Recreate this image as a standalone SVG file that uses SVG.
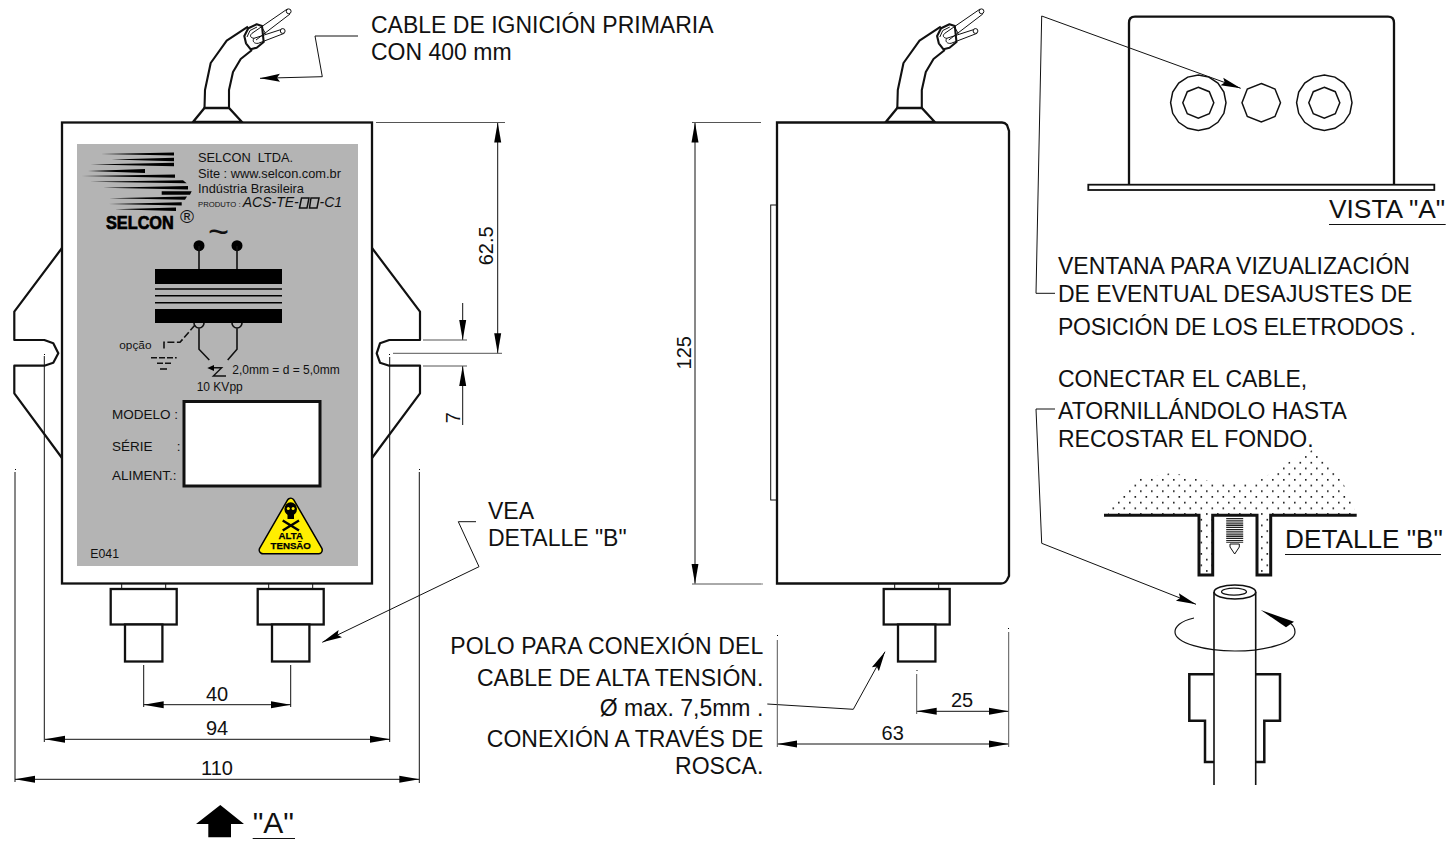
<svg xmlns="http://www.w3.org/2000/svg" xmlns:xlink="http://www.w3.org/1999/xlink" width="1456" height="842" viewBox="0 0 1456 842">
<style>
text{font-family:"Liberation Sans",Arial,sans-serif;fill:#111}
.t22{font-size:23px}.t20{font-size:20px}.tc{text-anchor:middle}.te{text-anchor:end}
.p13{font-size:12.8px}.p12{font-size:12px}.m{font-size:13.5px}
.ol{fill:#fff;stroke:#111;stroke-width:2.3;stroke-linejoin:miter}
.ln{fill:none;stroke:#111;stroke-width:2.1;stroke-linejoin:round}
.k{fill:none;stroke:#111;stroke-width:1}
.kg{fill:none;stroke:#555;stroke-width:1}
.dim{fill:none;stroke:#111;stroke-width:1;marker-start:url(#a);marker-end:url(#a)}
.lead{fill:none;stroke:#111;stroke-width:1;marker-end:url(#l)}
.oct{fill:none;stroke:#111;stroke-width:1.5}
</style>
<defs>
<marker id="a" markerUnits="userSpaceOnUse" markerWidth="22" markerHeight="10" refX="20" refY="4" orient="auto-start-reverse"><path d="M0 0.500L20 4L0 7.500Z" fill="#000"/></marker>
<marker id="l" markerUnits="userSpaceOnUse" markerWidth="22" markerHeight="12" refX="20" refY="5" orient="auto"><path d="M0 1L20 5L0 9L3 5Z" fill="#000"/></marker>
<pattern id="st" patternUnits="userSpaceOnUse" x="1106" y="478" width="11" height="11.4"><rect x="1" y="1" width="1.6" height="1.6" fill="#111"/><rect x="6.5" y="6.7" width="1.6" height="1.6" fill="#111"/></pattern>
<g id="cable">
<path class="ol" d="M193 122L204.500 108H229L242 122Z"/>
<path class="ln" d="M204.500 108L205 90L210.700 63L226.700 40.700L248 26.700M229 108V90L233 72L240.700 59L252 50"/>
<path class="ln" style="fill:#fff" d="M244.300 36L248.300 28.300L256.700 24.300L262 26L263.700 42L256.700 47.700L250.700 49.300L246 43.300Z"/>
<path class="k" d="M247 37L250 30.500L257 27"/>
<path class="k" style="fill:#fff" d="M252 33.300L287.300 9M256 40L290 14M254 38.300L282.700 29M258.300 43.300L284.300 33.300M252 33.300C249 36 251 38 254 38.300C252 41 254 44 258.300 43.300"/>
<path class="k" d="M262 27.500L265.500 33.500"/>
<circle class="k" style="fill:#fff" cx="288.700" cy="11.300" r="2.400"/>
<circle class="k" style="fill:#fff" cx="282.700" cy="31" r="2.400"/>
</g>
<g id="plug">
<path class="k" d="M-22 584V589M22 584V589"/>
<rect class="ol" x="-33" y="589" width="66" height="35.500"/>
<rect class="ol" x="-18.700" y="624.500" width="37.400" height="37"/>
</g>
<polygon id="o16" class="oct" points="0,-27.700 10.600,-25.600 19.600,-19.600 25.600,-10.600 27.700,0 25.600,10.600 19.600,19.600 10.600,25.600 0,27.700 -10.600,25.600 -19.600,19.600 -25.600,10.600 -27.700,0 -25.600,-10.600 -19.600,-19.600 -10.600,-25.600"/>
<polygon id="o8" class="oct" points="0,-15.500 11,-11 15.500,0 11,11 0,15.500 -11,11 -15.500,0 -11,-11"/>
</defs>
<rect width="1456" height="842" fill="#fff"/>

<g id="front-view">
<use xlink:href="#cable" href="#cable"/>
<path class="ln" style="stroke-width:2.200" d="M62 248L14.300 311.700V340H44.300L53.300 343.300L58.300 353.300L53.300 362.700L44.300 365.700H14.300V393.300L62 458"/>
<path class="ln" style="stroke-width:2.200" d="M372 248L420 311.700V340H389.300L380 343.300L376.700 353.300L380 362.700L389.300 365.700H420V393.300L372 458"/>
<rect class="ol" x="62" y="122.500" width="310" height="461"/>
<use xlink:href="#plug" href="#plug" x="143.700"/>
<use xlink:href="#plug" href="#plug" x="290.700"/>
</g>

<g id="label-plate">
<rect x="77" y="144" width="281" height="422" fill="#b4b4b4"/>
<path fill="#000" d="M101 154L174 152.500V155.500ZM111.700 159.500L174 157.700V161.300ZM90.700 164.500L174 162.800V166.200ZM88 171L145 169V173ZM81.700 176L175 174.500V177.800L81.700 176ZM90 181.700L183 180.200L186.700 183.300ZM103 187.700L188 186V189.500ZM161.700 191.300H191.700L190 194.800H161.700ZM109 198.300L187 196.500L185 199.800ZM109 204L181.700 202.200V205.600ZM115 209.300L176 207.500V211Z"/>
<text x="198" y="161.700" class="p13" xml:space="preserve">SELCON  LTDA.</text>
<text x="198" y="177.700" class="p13">Site : www.selcon.com.br</text>
<text x="198" y="192.700" class="p13">Indústria Brasileira</text>
<text x="198" y="207.300" font-size="7.700">PRODUTO :</text>
<text x="242.700" y="207.300" font-size="14" font-style="italic">ACS-TE-</text>
<path fill="none" stroke="#111" stroke-width="1.500" d="M301.500 198H309L307 208H299.500ZM311 198H319L317 208H309.500Z"/>
<text x="319.500" y="207.300" font-size="14" font-style="italic">-C1</text>
<text transform="translate(106 229.300) scale(.88 1)" font-size="18.500" font-weight="bold" style="fill:#000;stroke:#000;stroke-width:.7">SELCON</text>
<text x="180" y="223" font-size="19">®</text>
<text x="208" y="244" font-size="36">~</text>
<circle cx="199" cy="245.700" r="5.500" fill="#000"/><circle cx="237" cy="245.700" r="5.500" fill="#000"/>
<path class="k" style="stroke-width:1.600" d="M199 246V270M237 246V270"/>
<rect x="155" y="269" width="127" height="15" fill="#000"/>
<rect x="155" y="309" width="127" height="14" fill="#000"/>
<path fill="none" stroke="#000" stroke-width="1.500" d="M155 289H282M155 295.700H282M155 302.700H282"/>
<path class="k" style="stroke-width:1.600" d="M194 323A5 5 0 0 0 204 323M232 323A5 5 0 0 0 242 323M199 328V349.300L209.300 360M237 328V349.300L227.700 360"/>
<path fill="none" stroke="#111" stroke-width="1.600" stroke-dasharray="7 2.500" d="M195 325L180 342.300H164V351"/>
<path fill="none" stroke="#111" stroke-width="1.600" stroke-dasharray="6 2" d="M151 357.700H176.700"/>
<path fill="none" stroke="#111" stroke-width="1.600" stroke-dasharray="6 2" d="M157 363.300H172"/>
<path fill="none" stroke="#111" stroke-width="1.600" d="M160 369H167"/>
<text x="119.300" y="349.300" font-size="11.800">opção</text>
<path class="k" style="stroke-width:1.400" d="M213 367.700H221.700L213.300 376H226"/>
<path fill="#000" d="M207.300 368L214 365V371Z"/>
<text x="232.300" y="374.300" class="p12">2,0mm = d = 5,0mm</text>
<text x="196.700" y="391" class="p12">10 KVpp</text>
<rect x="184" y="401.500" width="136" height="84.500" fill="#fff" stroke="#111" stroke-width="3"/>
<text x="112" y="419" class="m">MODELO :</text>
<text x="112" y="451" class="m">SÉRIE</text><text x="176.700" y="451" class="m">:</text>
<text x="112" y="480" class="m">ALIMENT.:</text>
<text x="90.300" y="558.300" font-size="12.300">E041</text>
<g id="warning">
<polygon points="290.700,502 263,550 318.500,550" fill="#000" stroke="#000" stroke-width="9" stroke-linejoin="round"/>
<polygon points="290.700,502 263,550 318.500,550" fill="#ffee00" stroke="#ffee00" stroke-width="6" stroke-linejoin="round"/>
<ellipse cx="290.700" cy="509" rx="6.300" ry="6.800" fill="#000"/><rect x="287.500" y="513" width="6.500" height="6" fill="#000"/>
<circle cx="288.300" cy="508.500" r="1.500" fill="#ffee00"/><circle cx="293.100" cy="508.500" r="1.500" fill="#ffee00"/>
<path stroke="#000" stroke-width="2.400" fill="none" d="M282.700 520.500L299 530.500M299 520.500L282.700 530.500"/>
<text x="290.700" y="539.300" font-size="9.700" font-weight="bold" class="tc" style="fill:#000;stroke:#000;stroke-width:.25">ALTA</text>
<text x="290.700" y="549" font-size="9.700" font-weight="bold" class="tc" style="fill:#000;stroke:#000;stroke-width:.25">TENSÃO</text>
</g>
</g>

<g id="side-view">
<use xlink:href="#cable" href="#cable" x="692.800"/>
<rect class="k" x="770.700" y="205" width="6" height="295"/>
<path class="ol" d="M777 122.500H1002Q1005 122.500 1007 125L1009 131V576L1007 580Q1005 583.500 1001 583.500H777Z"/>
<use xlink:href="#plug" href="#plug" x="916.700"/>
</g>

<g id="vista-a">
<path class="ol" d="M1129 184.700V23Q1129 16.700 1135 16.700H1388Q1394 16.700 1394 23V184.700"/>
<rect class="ol" style="stroke-width:1.800" x="1088.300" y="184.700" width="346" height="5.300"/>
<use xlink:href="#o16" href="#o16" x="1198.300" y="102.700"/>
<use xlink:href="#o8" href="#o8" x="1198.300" y="102.700"/>
<polygon class="oct" points="1261.300,83.500 1275,89 1280.500,102.700 1275,116.500 1261.300,122 1247.300,116.500 1242,102.700 1247.300,89"/>
<use xlink:href="#o16" href="#o16" x="1324.300" y="102.700"/>
<use xlink:href="#o8" href="#o8" x="1324.300" y="102.700"/>
<text x="1329" y="218.300" font-size="26.300">VISTA "A"</text>
<path class="k" d="M1329 224.500H1445.700"/>
</g>

<g id="detalle-b">
<path fill="url(#st)" d="M1108 511L1140 478L1173 472.700L1203 480L1230 484L1257 482L1283 465L1312 450L1330 462L1347 490L1355 511V514H1270V574H1258V514H1212V574H1200V514H1108Z"/>
<path fill="none" stroke="#111" stroke-width="3" d="M1104 515.300H1199V575H1212.700V515.300H1257V575H1270.700V515.300H1356.700"/>
<path fill="none" stroke="#222" stroke-width="17" stroke-dasharray="1.300 .9" d="M1234.700 518V543"/>
<path fill="#fff" stroke="#111" d="M1230 544H1239.300V547L1234.700 554L1230 547Z"/>
<text x="1285" y="548.300" font-size="26.200">DETALLE "B"</text>
<path class="k" d="M1285 554.500H1441"/>
</g>

<g id="cable-end">
<path fill="none" stroke="#111" stroke-width="2.500" d="M1214 674.300H1189.300V720.700H1205V762H1214M1255.700 674.300H1280V720.700H1264.300V762H1255.700"/>
<path fill="none" stroke="#111" stroke-width="1.200" d="M1194 618C1180 621 1175 627 1175 632C1175 643 1205 651 1235 651C1265 651 1295 643 1295 632C1295 628 1292 624 1288 622"/>
<path fill="none" stroke="#111" stroke-width="1.600" d="M1214 592V785M1255.700 592V785"/>
<ellipse cx="1234.900" cy="592" rx="20.800" ry="7" fill="#fff" stroke="#111" stroke-width="1.600"/>
<ellipse cx="1234" cy="591.700" rx="12.500" ry="3.500" fill="none" stroke="#111" stroke-width="1.200"/>
<path fill="#000" d="M1260.700 610L1294 621.700L1286 627.300Z"/>
</g>

<g id="connectors">
<path class="lead" d="M358 36H315L322.300 76.700L260 78.300"/>
<path class="lead" d="M476 521.700H458.300L479 566.700L322.300 642.300"/>
<path class="lead" d="M767.300 704L853.300 709.300L885 651.700"/>
<path class="lead" d="M1055 293.300H1036L1041.700 16L1240.700 88.300"/>
<path class="lead" d="M1055 409H1036L1041.700 543.300L1196 604.300"/>
<path class="dim" d="M143.700 704.700H290.700"/>
<path class="dim" d="M45 739.300H390"/>
<path class="dim" d="M15 779.300H419.300"/>
<path class="dim" d="M497.700 122.500V353.300"/>
<path class="dim" d="M695 122.500V583.700"/>
<path class="dim" d="M777.300 744H1008.700"/>
<path class="dim" d="M916.700 711.300H1008.700"/>
<path class="k" style="marker-end:url(#a)" d="M462.700 303V340"/>
<path class="k" style="marker-end:url(#a)" d="M462.700 425V366"/>
<path class="k" d="M143.700 665V707M290.700 665V707M44.300 356V742M389.700 357V742M15 472V782M419.300 472V783"/>
<path class="kg" d="M376 122.500H505M393 353.300H502M423 340H467M423 366H467M692 122.500H761M692 584H761M777.300 640V747M1008.700 632V747M916.700 674V714"/>
<path fill="none" stroke="#000" d="M44 354.500h1M389 354.500h1M15 469.500h1M419 469.500h1M761.500 584h1M777 635.500h1M1008 628.500h1M916.500 670.500h1"/>
</g>

<g id="arrow-a">
<polygon points="220.300,805 196,824 208.300,824 208.300,837.300 231,837.300 231,824 244,824" fill="#000"/>
<text x="252.700" y="833.300" font-size="30">"A"</text>
<path class="k" d="M252.700 838.500H295"/>
</g>

<g id="labels" transform="translate(0 .8)">
<text x="371" y="32" class="t22">CABLE DE IGNICIÓN PRIMARIA</text>
<text x="371" y="59.300" class="t22">CON 400 mm</text>
<text x="488" y="518.300" class="t22">VEA</text>
<text x="488" y="545" class="t22">DETALLE "B"</text>
<text x="1058" y="273.300" class="t22">VENTANA PARA VIZUALIZACIÓN</text>
<text x="1058" y="301.700" class="t22">DE EVENTUAL DESAJUSTES DE</text>
<text x="1058" y="334.300" class="t22" textLength="358">POSICIÓN DE LOS ELETRODOS .</text>
<text x="1058" y="386.700" class="t22">CONECTAR EL CABLE,</text>
<text x="1058" y="418.300" class="t22">ATORNILLÁNDOLO HASTA</text>
<text x="1058" y="446.700" class="t22">RECOSTAR EL FONDO.</text>
<text x="763.300" y="653.300" class="t22 te" textLength="313">POLO PARA CONEXIÓN DEL</text>
<text x="763.300" y="685" class="t22 te">CABLE DE ALTA TENSIÓN.</text>
<text x="763.300" y="715" class="t22 te">Ø max. 7,5mm .</text>
<text x="763.300" y="746" class="t22 te">CONEXIÓN A TRAVÉS DE</text>
<text x="763.300" y="773.300" class="t22 te">ROSCA.</text>
<text x="217" y="700" class="t20 tc">40</text>
<text x="217" y="734" class="t20 tc">94</text>
<text x="217" y="774" class="t20 tc">110</text>
<text x="962" y="706" class="t20 tc">25</text>
<text x="892.700" y="739" class="t20 tc">63</text>
<text class="t20 tc" transform="translate(493 245) rotate(-90)">62.5</text>
<text class="t20 tc" transform="translate(691 352) rotate(-90)">125</text>
<text class="t20 tc" transform="translate(460 417) rotate(-90)">7</text>
</g>
</svg>
